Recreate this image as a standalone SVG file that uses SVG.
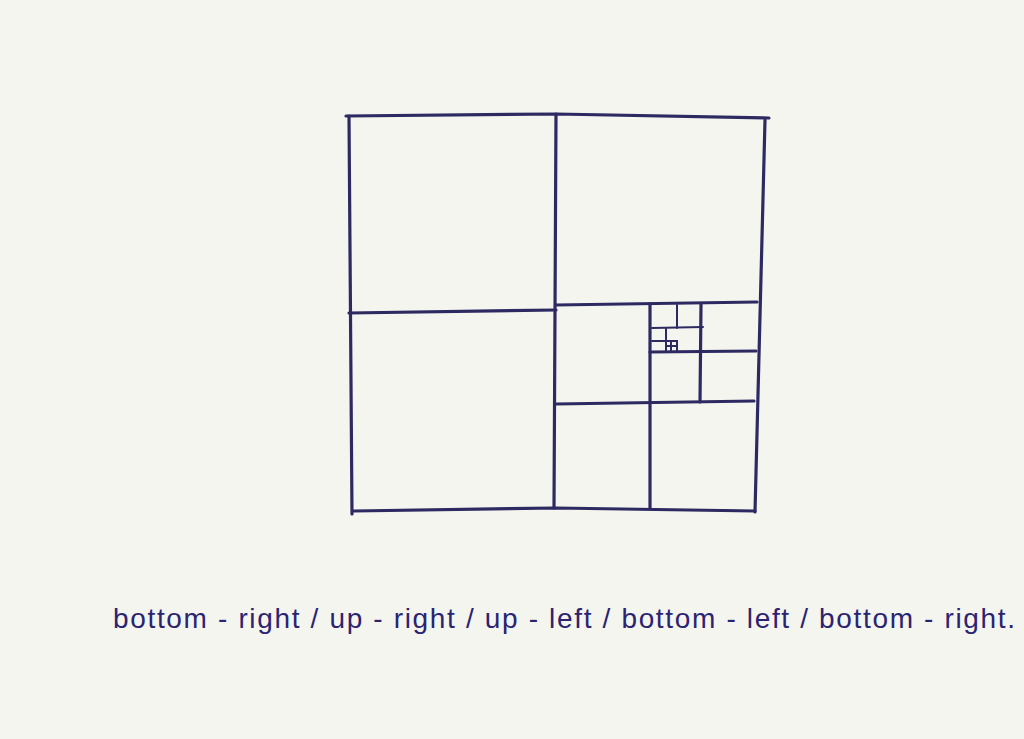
<svg xmlns="http://www.w3.org/2000/svg" width="1024" height="739" viewBox="0 0 1024 739">
<style>
.ln{stroke:#2d2a62;stroke-width:3.2;stroke-linecap:round;fill:none}
.th{stroke:#2d2a62;stroke-width:2;stroke-linecap:round;fill:none}
.tx{font-family:"Liberation Sans",sans-serif;font-size:28px;fill:#2b2470}
</style>
<rect width="1024" height="739" fill="#f5f5f0"/>
<g id="squares">
<path class="ln" d="M346,116 L556,114 L769,118"/>
<path class="ln" d="M349,116 L352,514"/>
<path class="ln" d="M765,120 L755,512"/>
<path class="ln" d="M354,511 L556,508 L755,511"/>
<path class="ln" d="M556,114 L554,508"/>
<path class="ln" d="M349,313 L556,310"/>
<path class="ln" d="M556,305 L757,302"/>
<path class="ln" d="M650,304 L650,508"/>
<path class="ln" d="M556,404 L754,401"/>
<path class="ln" d="M650,352 L756,351"/>
<path class="ln" d="M701,304 L700,402"/>
<path class="th" d="M677,305 L677,328"/>
<path class="th" d="M652,328 L703,327"/>
<path class="th" d="M666,328 L666,352"/>
<path class="th" d="M652,341 L677,341"/>
<rect class="th" x="666" y="341" width="11" height="11"/>
<path class="th" d="M671,341 L671,352 M666,346 L677,346"/>
</g>
<text class="tx" x="113" y="628" textLength="902" lengthAdjust="spacing">bottom - right / up - right / up - left / bottom - left / bottom - right.</text>
</svg>
